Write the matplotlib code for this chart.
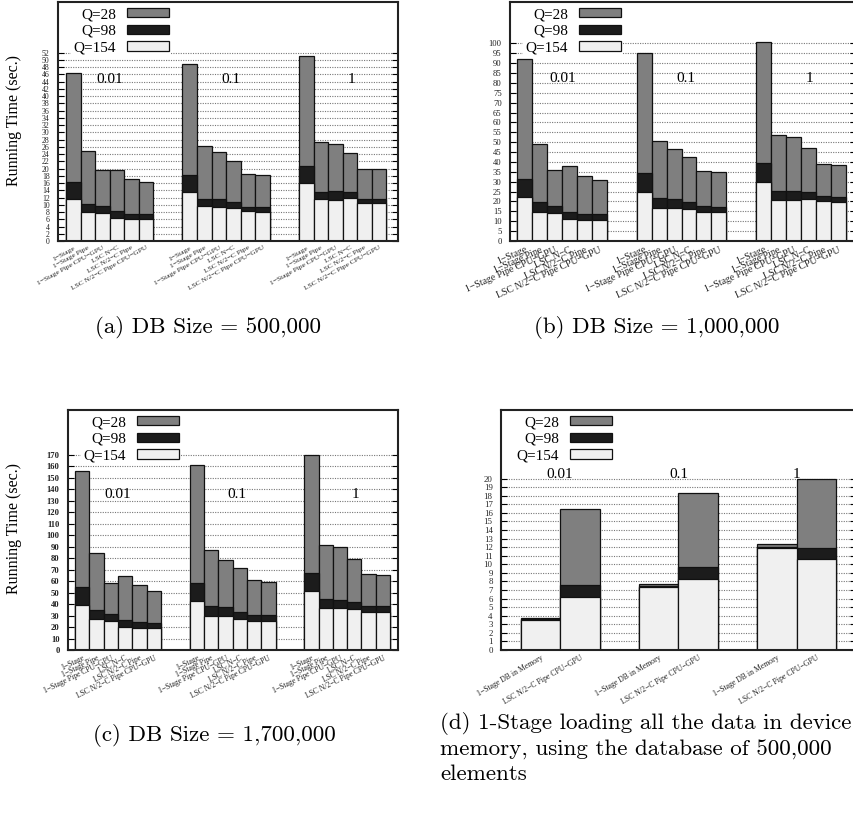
import numpy as np
import matplotlib.pyplot as plt
from matplotlib.patches import Patch
from matplotlib.transforms import ScaledTranslation

plt.rcParams['font.family'] = ['Liberation Serif', 'DejaVu Serif']

# bar names, repeated once per group
cats = ['1\u2212Stage', '1\u2212Stage Pipe', '1\u2212Stage Pipe CPU\u2212GPU',
        'LSC N\u2212C', 'LSC N/2\u2212C Pipe', 'LSC N/2\u2212C Pipe CPU\u2212GPU']
cats_d = ['1\u2212Stage DB in Memory', 'LSC N/2\u2212C Pipe CPU\u2212GPU']
groups = ['0.01', '0.1', '1']
series = ['Q=28', 'Q=98', 'Q=154']

# running times (sec.), groups 0.01 / 0.1 / 1 one after the other
a_q28 = [46.5, 24.9, 19.7, 19.7, 17.0, 16.3, 48.8, 26.1, 24.5, 22.1, 18.5, 18.1, 51.2, 27.4, 26.9, 24.4, 19.9, 19.8]
a_q98 = [16.2, 10.3, 9.8, 8.2, 7.5, 7.5, 18.2, 11.7, 11.6, 10.8, 9.5, 9.5, 20.6, 13.6, 13.7, 13.4, 11.7, 11.7]
a_q154 = [11.6, 8.0, 7.8, 6.3, 6.0, 6.0, 13.6, 9.6, 9.4, 9.0, 8.2, 8.0, 16.0, 11.5, 11.4, 12.0, 10.6, 10.4]

b_q28 = [92.2, 49.2, 35.8, 37.9, 33.1, 30.7, 95.3, 50.8, 46.4, 42.3, 35.6, 34.7, 100.8, 53.5, 52.4, 47.0, 38.8, 38.3]
b_q98 = [31.4, 19.7, 17.5, 14.7, 13.5, 13.5, 34.2, 21.6, 21.1, 19.6, 17.5, 17.4, 39.3, 25.3, 25.1, 24.6, 22.6, 22.1]
b_q154 = [22.1, 14.8, 14.2, 11.3, 10.6, 10.6, 25.0, 16.9, 16.7, 16.0, 14.8, 14.5, 30.0, 20.9, 20.6, 21.4, 20.1, 19.6]

c_q28 = [156.3, 84.4, 58.6, 64.4, 56.8, 51.3, 161.2, 86.8, 78.6, 71.4, 60.9, 59.2, 170.2, 91.7, 89.4, 79.2, 66.1, 65.3]
c_q98 = [54.5, 34.4, 31.0, 25.7, 24.3, 23.4, 58.3, 37.9, 37.1, 33.0, 30.1, 30.1, 66.7, 44.0, 43.5, 41.4, 38.2, 37.9]
c_q154 = [39.1, 26.6, 25.1, 19.9, 19.3, 18.8, 42.6, 29.8, 29.5, 26.9, 25.4, 25.1, 51.0, 36.8, 36.2, 35.3, 33.3, 33.3]

d_q28 = [3.75, 16.5, 7.75, 18.3, 12.4, 19.9]
d_q98 = [3.62, 7.56, 7.45, 9.65, 12.0, 11.86]
d_q154 = [3.5, 6.2, 7.35, 8.33, 11.9, 10.66]

colors = ['#7f7f7f', '#1c1c1c', '#f0f0f0']

fig = plt.figure(figsize=(8.54, 8.13), dpi=100)


def px_axes(x0, x1, y0, y1):
    return fig.add_axes([x0 / 854, 1 - y1 / 813, (x1 - x0) / 854, (y1 - y0) / 813])


def panel(ax, vals, names, nslot, ymax, ystep, ytop, xlim, label_y, tick_fs, rot, lab_fs):
    nbar = len(names)
    x = np.array([g * nslot + i for g in range(3) for i in range(nbar)], dtype=float)
    # tallest first, the others drawn over it
    for v, c in zip(vals, colors):
        ax.bar(x, v, width=1.0, color=c, edgecolor='#111111', linewidth=0.9, zorder=2)
    ax.set_xlim(*xlim)
    ax.set_ylim(0, ytop)
    ax.set_yticks(np.arange(0, ymax + 0.01, ystep))
    ax.set_xticks(x)
    ax.set_xticklabels(names * 3, rotation=rot, ha='right', va='top',
                       rotation_mode='anchor', fontsize=lab_fs, color='#222222')
    off = ScaledTranslation(4 / 100, 0, fig.dpi_scale_trans)
    for t in ax.get_xticklabels():
        t.set_transform(t.get_transform() + off)
    ax.tick_params(axis='x', length=0, pad=3)
    ax.tick_params(axis='y', direction='in', left=True, right=True, length=4,
                   width=0.8, labelsize=tick_fs, pad=6, labelcolor='#222222')
    ax.set_axisbelow(True)
    ax.yaxis.grid(True, linestyle=(0, (1, 1.2)), color='#777777', linewidth=0.8)
    for s in ax.spines.values():
        s.set_linewidth(1.5)
        s.set_color('#222222')
    for g, name in enumerate(groups):
        cx = g * nslot + (nbar - 1) / 2 + g * 0.3 * (nbar > 2)
        ax.text(cx, label_y, name, ha='center', va='center', fontsize=11, zorder=1)
    handles = [Patch(facecolor=c, edgecolor='#111111', linewidth=0.9) for c in colors]
    trans = ax.transAxes + ScaledTranslation(1.13, -0.04, fig.dpi_scale_trans)
    ax.legend(handles, series, loc='upper right', bbox_to_anchor=(0, 1.0),
              bbox_transform=trans, markerfirst=False, fontsize=11,
              handlelength=2.75, handleheight=0.55, handletextpad=0.7,
              labelspacing=0.23, borderpad=0.15, borderaxespad=0,
              frameon=True, fancybox=False, edgecolor='none',
              facecolor='white', framealpha=1)


ax_a = px_axes(58, 398, 2, 241)
panel(ax_a, [a_q28, a_q98, a_q154], cats, 8, 52, 2, 66.0, (-1.05, 22.3), 44.6, 5.6, 29, 5.4)
ax_b = px_axes(510, 856, 2, 241)
panel(ax_b, [b_q28, b_q98, b_q154], cats, 8, 100, 5, 121.0, (-1.0, 22.2), 82.4, 6.2, 24, 7.0)
ax_c = px_axes(68, 398, 410, 650)
panel(ax_c, [c_q28, c_q98, c_q154], cats, 8, 170, 10, 209.0, (-1.0, 22.05), 135.7, 6.2, 26, 5.5)
ax_d = px_axes(501, 856, 410, 650)
panel(ax_d, [d_q28, d_q98, d_q154], cats_d, 3, 20, 1, 28.0, (-1.0, 8.0), 20.5, 6.3, 30, 5.6)
for t in ax_c.get_yticklabels():
    t.set_fontweight('bold')

fig.text(14 / 854, 1 - 120 / 813, 'Running Time (sec.)', rotation=90,
         ha='center', va='center', fontsize=11.5)
fig.text(14 / 854, 1 - 528 / 813, 'Running Time (sec.)', rotation=90,
         ha='center', va='center', fontsize=11.5)

cap = dict(fontfamily='cmr10', fontsize=16.6, va='center')
fig.text(208 / 854, 1 - 327 / 813, '(a) DB Size = 500,000', ha='center', **cap)
fig.text(657 / 854, 1 - 327 / 813, '(b) DB Size = 1,000,000', ha='center', **cap)
fig.text(214 / 854, 1 - 735 / 813, '(c) DB Size = 1,700,000', ha='center', **cap)
fig.text(440 / 854, 1 - 712 / 813,
         '(d) 1-Stage loading all the data in device\nmemory, using the database of 500,000\nelements',
         ha='left', va='top', fontfamily='cmr10', fontsize=16.6, linespacing=1.3)

fig.savefig('out.png', dpi=100)
